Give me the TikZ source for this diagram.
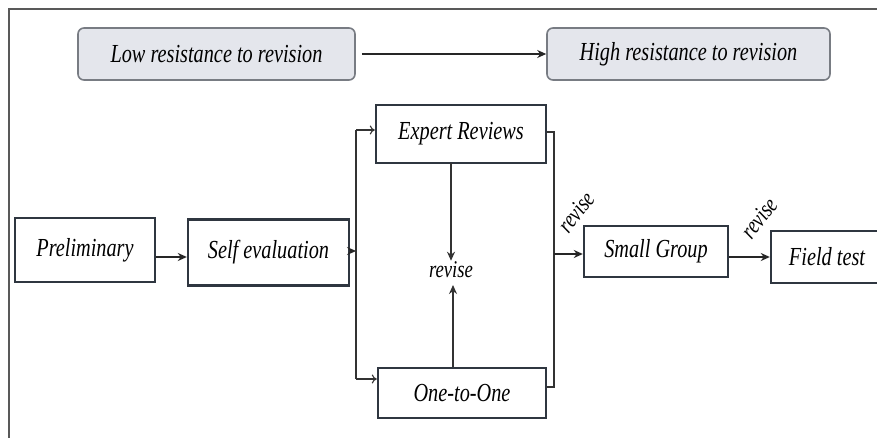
\documentclass[tikz,border=0pt]{standalone}
\usepackage{fontspec}
\setmainfont[FakeStretch=0.78]{Liberation Serif}
\usetikzlibrary{arrows.meta,calc}
\definecolor{boxline}{HTML}{2F3640}
\definecolor{topfill}{HTML}{E4E6EC}
\tikzset{
  stagebox/.style={draw=boxline, line width=2.4pt, fill=white, inner sep=0pt, font=\fontsize{26}{28}\selectfont\itshape},
  topbox/.style={draw=boxline!65, line width=1.6pt, fill=topfill, rounded corners=6pt, inner sep=0pt, font=\fontsize{26}{28}\selectfont\itshape},
  flow/.style={line width=1.8pt, draw=black!85, -{Stealth[length=9pt,width=8pt]}},
  thin/.style={line width=1.1pt, draw=black!80},
  open/.style={line width=1.1pt, draw=black!80, -{To[length=5pt,width=9pt]}},
  revlabel/.style={font=\fontsize{24}{26}\selectfont\itshape, inner sep=0pt},
}
\begin{document}
\begin{tikzpicture}[x=1pt,y=-1pt]
\useasboundingbox (0,0) rectangle (877,438);
\fill[white] (0,0) rectangle (877,438);
% frame
\draw[line width=1.4pt, draw=black!65] (877,9) -- (9,9) -- (9,438);
% top row
\node[topbox, minimum width=277pt, minimum height=52pt] (low) at (216.5,54) {Low resistance to revision};
\node[topbox, minimum width=283pt, minimum height=52pt] (high) at (688.5,54) {High resistance to revision};
\draw[flow] (low.east) ++(6pt,0) coordinate (lowout) -- (high.west);
% stage boxes
\node[stagebox, minimum width=140pt, minimum height=64pt] (pre) at (85,250) {Preliminary};
\node[stagebox, minimum width=161pt, minimum height=66pt] (self) at (268.5,252.5) {\raisebox{4pt}{Self evaluation}};
\node[stagebox, minimum width=170pt, minimum height=58pt] (exp) at (461,134) {Expert Reviews};
\node[stagebox, minimum width=168pt, minimum height=50pt] (one) at (462,393) {One-to-One};
\node[stagebox, minimum width=144pt, minimum height=51pt] (small) at (656,251.5) {Small Group};
\node[stagebox, minimum width=118pt, minimum height=52pt] (field) at (830,257) {\hspace*{-6pt}Field test};
\node[font=\fontsize{24}{26}\selectfont\itshape, inner sep=1pt] (rev) at (451,270) {revise};
% arrows
\draw[flow] (pre.east |- 0,257) -- (self.west |- 0,257);
% left bracket
\coordinate (lbt) at (356,130);
\coordinate (lbb) at (356,379);
\coordinate (lbm) at (356,251);
\draw[flow, line width=1.4pt] (self.east |- lbm) -- (lbm);
\draw[thin] (lbt) -- (lbb);
\draw[open] (lbt) -- (exp.west |- lbt);
\draw[open] (lbb) -- (one.west |- lbb);
% right bracket
\coordinate (rbt) at (554,132);
\coordinate (rbb) at (554,387);
\coordinate (rbm) at (554,254);
\draw[thin] (exp.east |- rbt) -- (rbt) -- (rbb) -- (one.east |- rbb);
\draw[flow] (rbm) -- (small.west |- rbm);
\draw[flow] (small.east |- 0,257) -- (field.west |- 0,257);
% revise arrows
\draw[thin, line width=1.4pt, -{Stealth[length=9pt,width=8pt]}] (451,163) -- (rev.north);
\draw[thin, line width=1.4pt, -{Stealth[length=9pt,width=8pt]}] (one.north -| 453,0) -- (453,285);
% rotated labels
\node[revlabel, rotate=52] (r1) at (576,212) {revise};
\node[revlabel, rotate=52] (r2) at (759,218) {revise};
\end{tikzpicture}
\end{document}
